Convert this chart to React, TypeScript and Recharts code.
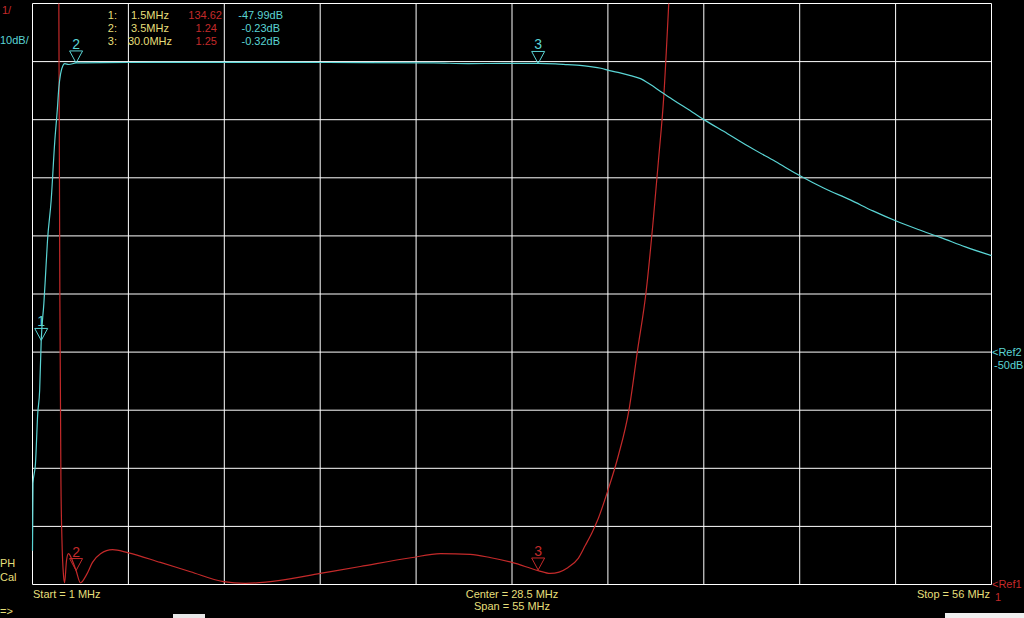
import React from 'react'
import { ComposedChart, Line, Scatter, XAxis, YAxis, CartesianGrid } from 'recharts'

const CYAN = '#5ad4d4'
const RED = '#c42a2a'
const YELLOW = '#e6df7a'
const FONT = '"Liberation Sans", Arial, sans-serif'

// frequency axis (MHz), 10 divisions over 55 MHz
const FREQ_TICKS = [1, 6.5, 12, 17.5, 23, 28.5, 34, 39.5, 45, 50.5, 56]
const DB_TICKS = [-90, -80, -70, -60, -50, -40, -30, -20, -10, 0, 10]
const SWR_DOMAIN = [1, 11]

// S21 trace (dB)
const s21Freq = [
    1.0, 1.03, 1.17, 1.3, 1.41, 1.5, 1.65, 1.73, 1.86, 2.07, 2.28, 2.42, 2.51, 2.61, 2.74, 2.85, 3.08, 3.5,
    5, 8, 12, 16, 20, 24, 26, 28, 30, 31, 31.7, 32.4, 33.0, 33.6, 34.1, 34.7, 35.3, 35.87, 36.44, 37.02, 37.59,
    38.16, 38.85, 39.46, 40.86, 42.18, 43.61, 44.99, 46.4, 47.9, 49.2, 50.5, 51.8, 53.1, 54.5, 56.0,
]
const s21Db = [
    -84.2, -72.6, -69.2, -60.6, -56.6, -47.99, -41.7, -37.7, -30.8, -23.9, -13.6, -8.4, -4.5, -2.1, -0.7, -0.35, -0.5, -0.23,
    -0.17, -0.15, -0.12, -0.14, -0.17, -0.22, -0.35, -0.3, -0.32, -0.38, -0.52, -0.64, -0.86, -1.15, -1.55, -1.95, -2.41, -2.93, -3.96, -5.16, -6.28,
    -7.4, -8.7, -9.9, -12.4, -14.8, -17.2, -19.6, -21.8, -23.8, -25.7, -27.4, -28.9, -30.3, -31.9, -33.4,
]

// SWR trace
const swrFreq = [
    1.0, 1.5, 2.0, 2.4, 2.51, 2.57, 2.63, 2.69, 2.78, 2.84, 2.95, 3.06, 3.29, 3.5, 3.75, 4.1, 4.44, 4.9, 5.59,
    6.45, 8.34, 10.06, 11.95, 13.2, 15.2, 17.5, 19.8, 22.7, 24.4, 26.1, 27.3, 28.5, 30.0, 30.7, 31.7, 32.3,
    32.7, 33.1, 33.4, 34.0, 34.6, 35.2, 35.7, 36.2, 36.6, 36.9, 37.2, 37.5, 38.0, 40, 45, 56,
]
const swrValue = [
    400, 134.62, 60, 16, 11.05, 5.89, 2.79, 1.76, 1.15, 1.03, 1.41, 1.53, 1.41, 1.24, 1.03, 1.17, 1.38, 1.53, 1.6,
    1.55, 1.38, 1.22, 1.05, 1.02, 1.07, 1.19, 1.31, 1.46, 1.53, 1.52, 1.46, 1.38, 1.24, 1.19, 1.29, 1.45,
    1.67, 1.9, 2.1, 2.62, 3.22, 3.99, 5.03, 6.06, 7.27, 8.3, 9.38, 11.05, 14, 30, 60, 100,
]

// markers
const markerFreq = [1.5, 3.5, 30.0]
const markerSwr = [134.62, 1.24, 1.25]
const markerDb = [-47.99, -0.23, -0.32]

const s21Data = s21Freq.map((f, i) => ({ f, db: s21Db[i] }))
const swrData = swrFreq.map((f, i) => ({ f, swr: swrValue[i] }))
const cyanMarkers = markerFreq.map((f, i) => ({ f, db: markerDb[i], n: i + 1 }))
const redMarkers = markerFreq
    .map((f, i) => ({ f, swr: markerSwr[i], n: i + 1 }))
    .filter((m) => m.swr <= SWR_DOMAIN[1])

function markerShape(color: string) {
    return (props: any) => {
        const { cx, cy, payload } = props
        if (cx == null || cy == null) return <g />
        return (
            <g>
                <polygon
                    points={`${cx - 6.5},${cy - 12} ${cx + 6.5},${cy - 12} ${cx},${cy}`}
                    fill="none"
                    stroke={color}
                    strokeWidth={1}
                />
                <text x={cx} y={cy - 14} fill={color} fontSize={14} fontFamily={FONT} textAnchor="middle">
                    {payload.n}
                </text>
            </g>
        )
    }
}

const tableRows = markerFreq.map((f, i) => ({
    idx: `${i + 1}:`,
    freq: `${f.toFixed(1)}MHz`,
    swr: markerSwr[i].toFixed(2),
    db: `${markerDb[i].toFixed(2)}dB`,
}))

function Overlay() {
    const t = { fontFamily: FONT, fontSize: 11 }
    return (
        <svg width={1024} height={618} style={{ position: 'absolute', left: 0, top: 0, pointerEvents: 'none' }}>
            <text x={2} y={14} fill={RED} {...t}>1/</text>
            <text x={0} y={44} fill={CYAN} {...t}>10dB/</text>
            {tableRows.map((r, i) => (
                <g key={i}>
                    <text x={117} y={19 + i * 13} fill={YELLOW} {...t} textAnchor="end">{r.idx}</text>
                    <text x={i === 2 ? 128 : 131} y={19 + i * 13} fill={YELLOW} {...t}>{r.freq}</text>
                    <text x={i === 0 ? 222 : 217} y={19 + i * 13} fill={RED} {...t} textAnchor="end">{r.swr}</text>
                    <text x={i === 0 ? 283 : 280} y={19 + i * 13} fill={CYAN} {...t} textAnchor="end">{r.db}</text>
                </g>
            ))}
            <text x={992} y={356} fill={CYAN} {...t}>&lt;Ref2</text>
            <text x={994} y={369} fill={CYAN} {...t}>-50dB</text>
            <text x={992} y={588} fill={RED} {...t}>&lt;Ref1</text>
            <text x={995} y={601} fill={RED} {...t}>1</text>
            <text x={0} y={567} fill={YELLOW} {...t}>PH</text>
            <text x={0} y={581} fill={YELLOW} {...t}>Cal</text>
            <text x={0} y={615} fill={YELLOW} {...t}>=&gt;</text>
            <text x={33} y={598} fill={YELLOW} {...t}>Start = 1 MHz</text>
            <text x={512} y={598} fill={YELLOW} {...t} textAnchor="middle">Center = 28.5 MHz</text>
            <text x={512} y={610} fill={YELLOW} {...t} textAnchor="middle">Span = 55 MHz</text>
            <text x={990} y={598} fill={YELLOW} {...t} textAnchor="end">Stop = 56 MHz</text>
            <rect x={173} y={614} width={32} height={4} fill="#e8e8e8" />
            <rect x={945} y={613} width={79} height={5} fill="#f0f0f0" />
        </svg>
    )
}

export default function App() {
    return (
        <div style={{ position: 'absolute', left: 0, top: 0, width: 1024, height: 618, background: '#000', overflow: 'hidden' }}>
            <ComposedChart
                width={1024}
                height={618}
                margin={{ top: 3.5, right: 32.5, bottom: 33.5, left: 32.5 }}
            >
                <XAxis dataKey="f" type="number" domain={[1, 56]} ticks={FREQ_TICKS} hide allowDuplicatedCategory={false} />
                <YAxis yAxisId="db" type="number" domain={[-90, 10]} ticks={DB_TICKS} hide allowDataOverflow />
                <YAxis yAxisId="swr" orientation="right" type="number" domain={SWR_DOMAIN} hide allowDataOverflow />
                <CartesianGrid yAxisId="db" stroke="#ffffff" strokeWidth={1} fill="none" />
                <Line
                    yAxisId="swr"
                    data={swrData}
                    dataKey="swr"
                    type="monotone"
                    stroke={RED}
                    strokeWidth={1.2}
                    dot={false}
                    isAnimationActive={false}
                />
                <Line
                    yAxisId="db"
                    data={s21Data}
                    dataKey="db"
                    type="monotone"
                    stroke={CYAN}
                    strokeWidth={1.2}
                    dot={false}
                    isAnimationActive={false}
                />
                <Scatter yAxisId="db" data={cyanMarkers} dataKey="db" shape={markerShape(CYAN)} isAnimationActive={false} />
                <Scatter yAxisId="swr" data={redMarkers} dataKey="swr" shape={markerShape(RED)} isAnimationActive={false} />
            </ComposedChart>
            <Overlay />
        </div>
    )
}
